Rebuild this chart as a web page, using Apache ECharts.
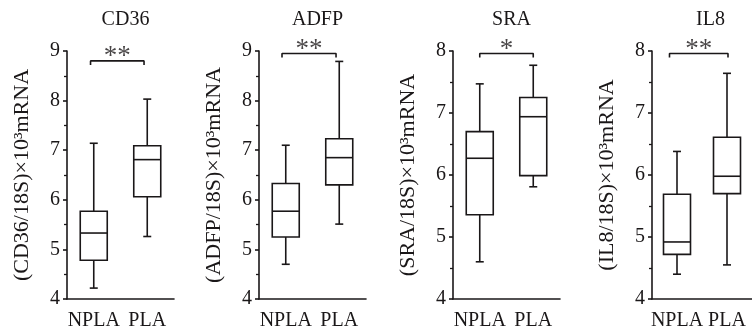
<!DOCTYPE html>
<html><head><meta charset="utf-8">
<script src="https://cdn.jsdelivr.net/npm/echarts@6/dist/echarts.min.js"></script>
<style>html,body{margin:0;padding:0;background:#fff}#c{width:752px;height:334px}</style>
</head><body><div id="c"></div>
<script>
const categories = ['NPLA', 'PLA'];
const panelTitles = ['CD36', 'ADFP', 'SRA', 'IL8'];
const axisNames = ['(CD36/18S)×10³mRNA', '(ADFP/18S)×10³mRNA', '(SRA/18S)×10³mRNA', '(IL8/18S)×10³mRNA'];
// each entry: [lower whisker, Q1, median, Q3, upper whisker] for NPLA, PLA
const cd36 = [[4.22, 4.78, 5.33, 5.77, 7.14], [5.26, 6.06, 6.81, 7.09, 8.03]];
const adfp = [[4.70, 5.25, 5.77, 6.33, 7.10], [5.51, 6.30, 6.85, 7.23, 8.79]];
const sra  = [[4.60, 5.36, 6.27, 6.70, 7.47], [5.81, 5.99, 6.94, 7.25, 7.77]];
const il8  = [[4.40, 4.72, 4.92, 5.69, 6.38], [4.55, 5.70, 5.98, 6.61, 7.64]];
const yMin = [4, 4, 4, 4];
const yMax = [9, 9, 8, 8];
const yStep = [1, 1, 1, 1];
const bracketLevel = [8.80, 8.95, 7.96, 7.96];
const bracketDrop = [0.08, 0.08, 0.065, 0.065];
const bracketStart = [0.44, 0.43, 0.5, 0.35];
const bracketEnd = [1.44, 1.44, 1.5, 1.52];
const significance = ['**', '**', '*', '**'];

const panels = [cd36, adfp, sra, il8];
const gridLeft = [67, 259, 453, 652];
const gridWidth = 107, gridTop = 51, gridHeight = 248;
const INK = '#1a1718';
const FONT = 'Liberation Serif';

function renderBox(params, api) {
  const x = api.value(0);
  const lo = api.coord([x, api.value(1)]);
  const q1 = api.coord([x, api.value(2)]);
  const md = api.coord([x, api.value(3)]);
  const q3 = api.coord([x, api.value(4)]);
  const hi = api.coord([x, api.value(5)]);
  const cx = lo[0];
  const hw = 13.5, cw = 4;
  const st = { stroke: INK, lineWidth: 1.6, fill: null };
  return {
    type: 'group',
    children: [
      { type: 'rect', shape: { x: cx - hw, y: q3[1], width: 2 * hw, height: q1[1] - q3[1] }, style: { stroke: INK, lineWidth: 1.6, fill: 'rgba(0,0,0,0)' } },
      { type: 'line', shape: { x1: cx - hw, y1: md[1], x2: cx + hw, y2: md[1] }, style: st },
      { type: 'line', shape: { x1: cx, y1: q3[1], x2: cx, y2: hi[1] }, style: st },
      { type: 'line', shape: { x1: cx - cw, y1: hi[1], x2: cx + cw, y2: hi[1] }, style: st },
      { type: 'line', shape: { x1: cx, y1: q1[1], x2: cx, y2: lo[1] }, style: st },
      { type: 'line', shape: { x1: cx - cw, y1: lo[1], x2: cx + cw, y2: lo[1] }, style: st }
    ]
  };
}

const grid = [], xAxis = [], yAxis = [], series = [], title = [];
panels.forEach((p, i) => {
  grid.push({ left: gridLeft[i], top: gridTop, width: gridWidth, height: gridHeight, containLabel: false });
  title.push({ text: panelTitles[i], left: gridLeft[i] + gridWidth / 2, top: 5, textAlign: 'center',
    textStyle: { fontFamily: FONT, fontWeight: 'normal', fontSize: 20, color: INK } });
  xAxis.push({
    type: 'category', gridIndex: i, data: categories, boundaryGap: true,
    axisLine: { lineStyle: { color: INK, width: 1.6 } },
    axisTick: { alignWithLabel: true, interval: 0, length: 4, lineStyle: { color: INK, width: 1.6 } },
    axisLabel: { interval: 0, hideOverlap: false, fontFamily: FONT, fontSize: 20, color: INK, margin: 12 },
    splitLine: { show: false }
  });
  xAxis.push({ type: 'value', gridIndex: i, min: 0, max: 2, show: false });
  yAxis.push({
    type: 'value', gridIndex: i, min: yMin[i], max: yMax[i], interval: yStep[i],
    name: axisNames[i], nameLocation: 'middle', nameGap: 34,
    nameTextStyle: { fontFamily: FONT, fontSize: 22, color: INK },
    axisLine: { show: true, lineStyle: { color: INK, width: 1.6 } },
    axisTick: { show: true, length: 4, lineStyle: { color: INK, width: 1.6 } },
    minorTick: { show: true, splitNumber: 2, length: 3, lineStyle: { color: INK, width: 1.3 } },
    axisLabel: { fontFamily: FONT, fontSize: 20, color: INK, margin: 7 },
    splitLine: { show: false }, minorSplitLine: { show: false }
  });
  series.push({
    type: 'custom', xAxisIndex: 2 * i, yAxisIndex: i, renderItem: renderBox,
    encode: { x: 0, y: [1, 2, 3, 4, 5] },
    data: p.map((v, k) => [k].concat(v)), silent: true
  });
  const lv = bracketLevel[i], d = bracketDrop[i];
  series.push({
    type: 'line', xAxisIndex: 2 * i + 1, yAxisIndex: i, symbol: 'none', silent: true,
    lineStyle: { color: INK, width: 1.6 },
    data: [[bracketStart[i], lv - d], [bracketStart[i], lv], [bracketEnd[i], lv], [bracketEnd[i], lv - d]]
  });
  series.push({
    type: 'scatter', xAxisIndex: 2 * i + 1, yAxisIndex: i, symbolSize: 1, silent: true,
    itemStyle: { color: 'rgba(0,0,0,0)' },
    label: { show: true, position: 'top', distance: -10, formatter: significance[i],
      fontFamily: FONT, fontSize: 27, color: INK },
    data: [[(bracketStart[i] + bracketEnd[i]) / 2, lv]]
  });
});

const chart = echarts.init(document.getElementById('c'), null, { renderer: 'canvas' });
chart.setOption({ animation: false, backgroundColor: '#fff', title, grid, xAxis, yAxis, series });
</script></body></html>
